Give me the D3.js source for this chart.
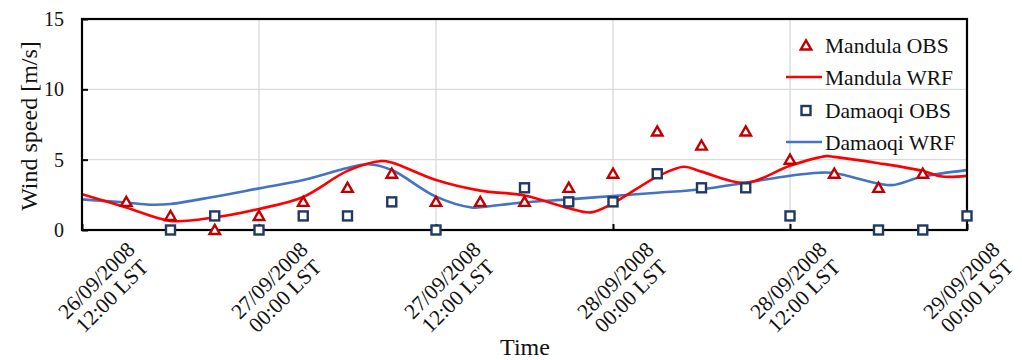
<!DOCTYPE html>
<html>
<head>
<meta charset="utf-8">
<script src="https://cdn.jsdelivr.net/npm/d3@7"></script>
<style>
  html, body { margin: 0; padding: 0; background: #fff; }
  svg { display: block; font-family: "Liberation Serif", "Times New Roman", serif; }
</style>
</head>
<body>
<svg id="chart" width="1022" height="360"></svg>
<script>
// Hours after 26/09/2008 12:00 LST at which observations were taken (3-hourly)
const obsHours = [3, 6, 9, 12, 15, 18, 21, 24, 27, 30, 33, 36, 39, 42, 45, 48, 51, 54, 57, 60];
const mandulaObs = [2, 1, 0, 1, 2, 3, 4, 2, 2, 2, 3, 4, 7, 6, 7, 5, 4, 3, 4, null];
const damaoqiObs = [null, 0, 1, 0, 1, 1, 2, 0, null, 3, 2, 2, 4, 3, 3, 1, null, 0, 0, 1];

// WRF simulated wind speed (hours after 26/09/2008 12:00 LST)
const mandulaWrfHours = [0, 3, 6, 9, 12, 15, 18, 20.3, 21, 24, 27, 30, 33, 34.5, 36, 39, 40.8, 42, 45, 48, 50.5, 51, 54, 57, 58.3, 60];
const mandulaWrf = [2.55, 1.6, 0.65, 0.9, 1.5, 2.35, 4.2, 4.9, 4.8, 3.55, 2.8, 2.45, 1.55, 1.25, 1.9, 3.8, 4.5, 4.15, 3.35, 4.57, 5.25, 5.2, 4.75, 4.2, 3.8, 3.85];
const damaoqiWrfHours = [0, 3, 4.6, 6, 9, 12, 15, 18, 19.4, 21, 24, 26.4, 27, 30, 33, 36, 39, 42, 45, 48, 50, 51, 54, 55, 57, 60];
const damaoqiWrf = [2.18, 1.95, 1.8, 1.85, 2.37, 2.96, 3.55, 4.4, 4.67, 4.26, 2.37, 1.6, 1.62, 1.97, 2.18, 2.42, 2.65, 2.9, 3.36, 3.86, 4.07, 4.05, 3.3, 3.2, 3.8, 4.26];

// Axis ticks
const xTickHours = [0, 12, 24, 36, 48, 60];
const xTickLabels = [
  ["26/09/2008", "12:00 LST"],
  ["27/09/2008", "00:00 LST"],
  ["27/09/2008", "12:00 LST"],
  ["28/09/2008", "00:00 LST"],
  ["28/09/2008", "12:00 LST"],
  ["29/09/2008", "00:00 LST"]
];
const yTicks = [0, 5, 10, 15];
const seriesNames = ["Mandula OBS", "Mandula WRF", "Damaoqi OBS", "Damaoqi WRF"];

const start = new Date(2008, 8, 26, 12);
const toDate = h => new Date(start.getTime() + h * 3600e3);

const svg = d3.select("#chart");
const m = { left: 82, right: 967, top: 19, bottom: 230 };

const x = d3.scaleTime().domain([toDate(0), toDate(60)]).range([m.left, m.right]);
// Rotated date labels sit on a slightly tighter spacing than the ticks
const xLabel = d3.scaleTime().domain([toDate(0), toDate(60)]).range([104, 969]);
const y = d3.scaleLinear().domain([0, 15]).range([m.bottom, m.top]);

const RED = "#ff0000", DARKRED = "#c00000", BLUE = "#4472c4", NAVY = "#203864";

// Grid
const grid = svg.append("g");
grid.selectAll("line.h").data(yTicks.filter(v => v > 0 && v < 15)).join("line")
  .attr("x1", m.left).attr("x2", m.right)
  .attr("y1", d => y(d)).attr("y2", d => y(d))
  .attr("stroke", "#d9d9d9").attr("stroke-width", 1.3);
grid.selectAll("line.v").data(xTickHours.slice(1, -1)).join("line")
  .attr("x1", d => x(toDate(d))).attr("x2", d => x(toDate(d)))
  .attr("y1", m.top).attr("y2", m.bottom)
  .attr("stroke", "#d9d9d9").attr("stroke-width", 1.3);

// Y axis ticks (inward) and labels
const yAxis = d3.axisLeft(y).tickValues(yTicks).tickSizeInner(-6).tickSizeOuter(0).tickPadding(18);
const gy = svg.append("g").attr("transform", `translate(${m.left},0)`).call(yAxis);
gy.select(".domain").remove();
gy.selectAll(".tick line").attr("stroke", "#000").attr("stroke-width", 2);
gy.selectAll(".tick text").attr("font-size", 20).attr("font-family", "Liberation Serif").attr("fill", "#111");

// X axis ticks (inward)
const xAxis = d3.axisBottom(x).tickValues(xTickHours.map(toDate)).tickSizeInner(-6).tickSizeOuter(0).tickFormat("");
const gx = svg.append("g").attr("transform", `translate(0,${m.bottom})`).call(xAxis);
gx.select(".domain").remove();
gx.selectAll(".tick line").attr("stroke", "#000").attr("stroke-width", 2);

// Rotated two-line date labels
const lab = svg.append("g").selectAll("g").data(xTickHours).join("g")
  .attr("transform", d => `translate(${xLabel(toDate(d))},288) rotate(-45)`);
lab.append("text")
  .attr("text-anchor", "middle").attr("font-size", 21.5).attr("fill", "#111")
  .selectAll("tspan").data((d, i) => xTickLabels[i]).join("tspan")
  .attr("x", 0).attr("y", (d, i) => i === 0 ? -3.5 : 18.5).text(d => d);

// Clip for lines
svg.append("clipPath").attr("id", "plotClip").append("rect")
  .attr("x", m.left).attr("y", m.top).attr("width", m.right - m.left).attr("height", m.bottom - m.top);

const line = d3.line().curve(d3.curveCatmullRom.alpha(0.5))
  .x(d => x(toDate(d[0]))).y(d => y(d[1]));

const plot = svg.append("g").attr("clip-path", "url(#plotClip)");
plot.append("path").datum(damaoqiWrfHours.map((h, i) => [h, damaoqiWrf[i]]))
  .attr("d", line).attr("fill", "none").attr("stroke", BLUE).attr("stroke-width", 2.6);
plot.append("path").datum(mandulaWrfHours.map((h, i) => [h, mandulaWrf[i]]))
  .attr("d", line).attr("fill", "none").attr("stroke", RED).attr("stroke-width", 2.6);

// Frame
svg.append("rect").attr("x", m.left).attr("y", m.top)
  .attr("width", m.right - m.left).attr("height", m.bottom - m.top)
  .attr("fill", "none").attr("stroke", "#000").attr("stroke-width", 2.2);

// Markers
const tri = d3.symbol().type(d3.symbolTriangle).size(48);
const sq = 9;
const markers = svg.append("g");
markers.selectAll("path.tri")
  .data(obsHours.map((h, i) => [h, mandulaObs[i]]).filter(d => d[1] !== null))
  .join("path")
  .attr("d", tri)
  .attr("transform", d => `translate(${x(toDate(d[0]))},${y(d[1]) + 1})`)
  .attr("fill", "#fff").attr("stroke", DARKRED).attr("stroke-width", 2.4);
markers.selectAll("rect.sq")
  .data(obsHours.map((h, i) => [h, damaoqiObs[i]]).filter(d => d[1] !== null))
  .join("rect")
  .attr("x", d => x(toDate(d[0])) - sq / 2).attr("y", d => y(d[1]) - sq / 2)
  .attr("width", sq).attr("height", sq)
  .attr("fill", "#fff").attr("stroke", NAVY).attr("stroke-width", 2.4);

// Legend (transparent background, grid shows through)
const legend = svg.append("g");
const rowY = [45.5, 77, 110.5, 142];
legend.append("path").attr("d", tri).attr("transform", `translate(806,${rowY[0] + 1})`)
  .attr("fill", "#fff").attr("stroke", DARKRED).attr("stroke-width", 2.4);
legend.append("line").attr("x1", 786).attr("x2", 822).attr("y1", rowY[1]).attr("y2", rowY[1])
  .attr("stroke", RED).attr("stroke-width", 2.6);
legend.append("rect").attr("x", 806 - sq / 2).attr("y", rowY[2] - sq / 2).attr("width", sq).attr("height", sq)
  .attr("fill", "#fff").attr("stroke", NAVY).attr("stroke-width", 2.4);
legend.append("line").attr("x1", 786).attr("x2", 822).attr("y1", rowY[3]).attr("y2", rowY[3])
  .attr("stroke", BLUE).attr("stroke-width", 2.6);
legend.selectAll("text").data(seriesNames).join("text")
  .attr("x", 825).attr("y", (d, i) => rowY[i] + 7.5)
  .attr("font-size", 21.5).attr("fill", "#111").text(d => d);

// Axis titles
svg.append("text").attr("transform", "translate(37,126) rotate(-90)")
  .attr("text-anchor", "middle").attr("font-size", 24).attr("fill", "#111").text("Wind speed [m/s]");
svg.append("text").attr("x", 525).attr("y", 355)
  .attr("text-anchor", "middle").attr("font-size", 24).attr("fill", "#111").text("Time");
</script>
</body>
</html>
